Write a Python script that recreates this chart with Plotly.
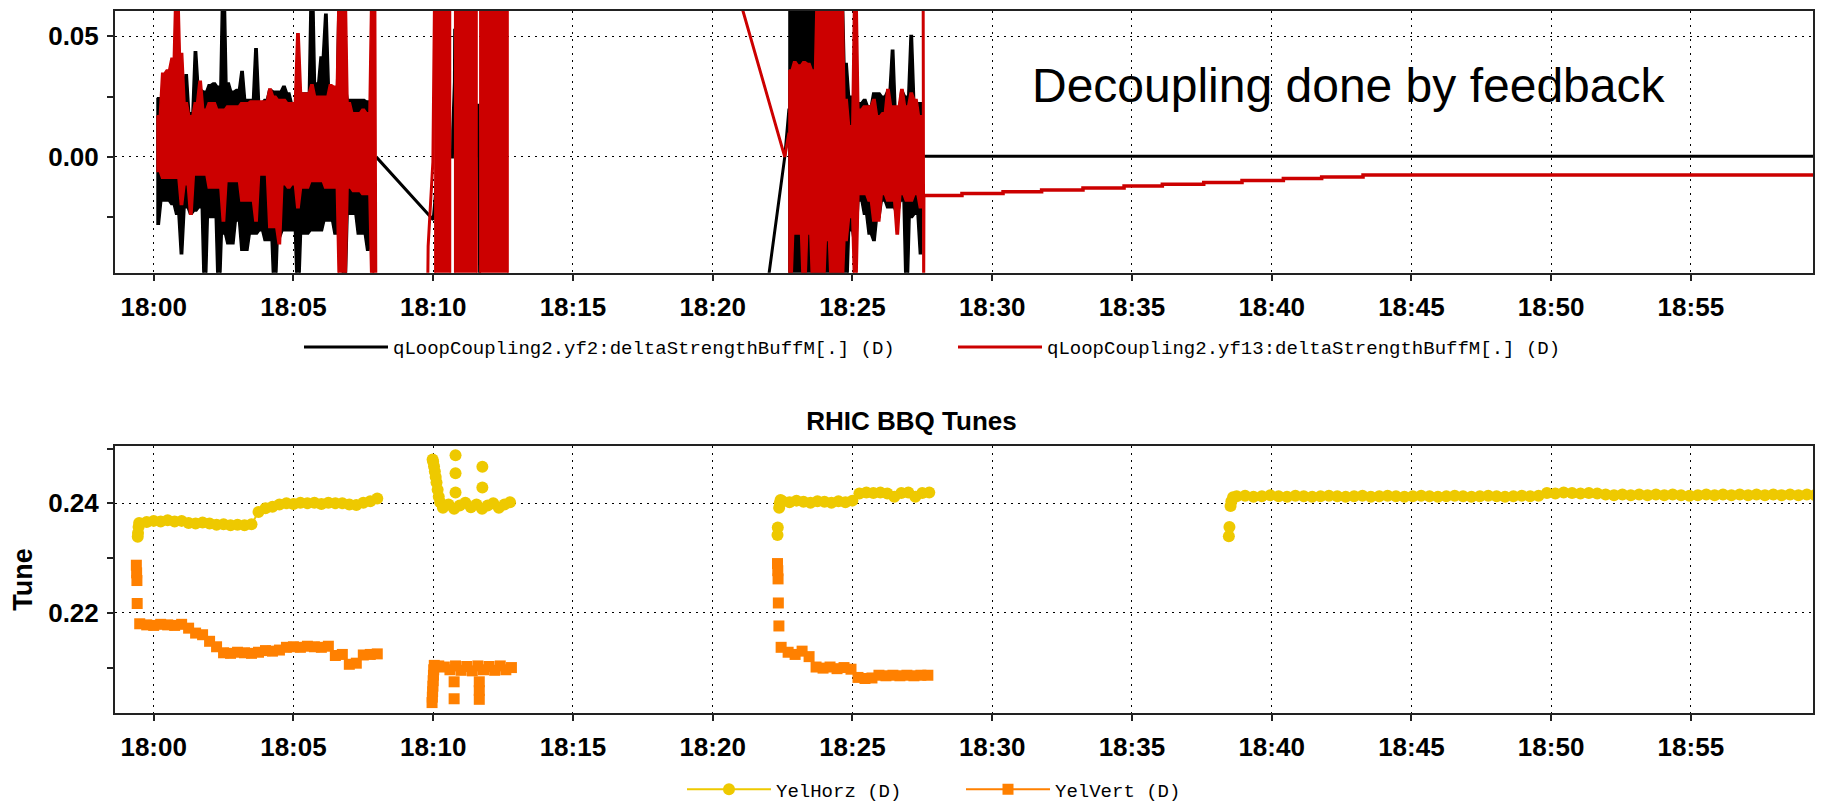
import numpy as np
import pandas as pd
import plotly.graph_objects as go

BASE = pd.Timestamp("2008-01-01 18:00:00")

# ---------------- top panel data (minutes after 18:00) ----------------
DT = 1.0 / 6.0  # 10 s sampling of the noisy envelopes
segA_t0 = 0.12
segB_t0 = 22.73

yf2_segA_up = [0.0245, 0.0183, 0.0183, 0.0183, 0.0197, 0.0224, 0.0340, 0.0183, 0.0435, 0.0279,
               0.0272, 0.0299, 0.0306, 0.0292, 0.0800, 0.0306, 0.0272, 0.0279, 0.0353, 0.0238,
               0.0238, 0.0448, 0.0224, 0.0238, 0.0279, 0.0272, 0.0272, 0.0292, 0.0265, 0.0224,
               0.0224, 0.0265, 0.0265, 0.0800, 0.0306, 0.0414, 0.0591, 0.0279, 0.0238, 0.0800,
               0.0306, 0.0238, 0.0238, 0.0238, 0.0238, 0.0231, 0.0231]
yf2_segA_lo = [-0.0279, -0.0183, -0.0183, -0.0197, -0.0238, -0.0401, -0.0211, -0.0238, -0.0224, -0.0211,
               -0.0600, -0.0251, -0.0251, -0.0600, -0.0319, -0.0360, -0.0360, -0.0265, -0.0387, -0.0387,
               -0.0319, -0.0319, -0.0306, -0.0346, -0.0346, -0.0600, -0.0333, -0.0306, -0.0306, -0.0306,
               -0.0600, -0.0319, -0.0319, -0.0306, -0.0306, -0.0306, -0.0265, -0.0265, -0.0319, -0.0319,
               -0.0600, -0.0238, -0.0238, -0.0319, -0.0319, -0.0387, -0.0319]
yf13_segA_up = [0.0170, 0.0346, 0.0360, 0.0408, 0.0800, 0.0428, 0.0224, 0.0170, 0.0224, 0.0313,
                0.0197, 0.0224, 0.0224, 0.0197, 0.0197, 0.0211, 0.0211, 0.0211, 0.0224, 0.0224,
                0.0231, 0.0231, 0.0231, 0.0231, 0.0281, 0.0251, 0.0238, 0.0238, 0.0224, 0.0224,
                0.0510, 0.0265, 0.0265, 0.0299, 0.0251, 0.0251, 0.0251, 0.0299, 0.0292, 0.0800,
                0.0800, 0.0224, 0.0183, 0.0183, 0.0197, 0.0183, 0.0800]
yf13_segA_lo = [-0.0061, -0.0088, -0.0088, -0.0088, -0.0088, -0.0197, -0.0115, -0.0238, -0.0075, -0.0075,
                -0.0075, -0.0129, -0.0129, -0.0129, -0.0265, -0.0102, -0.0102, -0.0102, -0.0183, -0.0183,
                -0.0183, -0.0265, -0.0075, -0.0075, -0.0292, -0.0292, -0.0360, -0.0115, -0.0129, -0.0115,
                -0.0211, -0.0129, -0.0129, -0.0102, -0.0102, -0.0102, -0.0129, -0.0129, -0.0129, -0.0600,
                -0.0600, -0.0129, -0.0143, -0.0143, -0.0156, -0.0156, -0.0600]

yf2_segB_up = [0.0800] * 12 + [0.0387, 0.0251, 0.0224, 0.0224, 0.0238, 0.0211, 0.0265, 0.0265, 0.0251,
                               0.0272, 0.0442, 0.0183, 0.0272, 0.0251, 0.0503, 0.0224, 0.0224]
yf2_segB_lo = [-0.0600] * 13 + [-0.0306, -0.0374, -0.0183, -0.0238, -0.0319, -0.0346, -0.0251, -0.0183,
                                -0.0211, -0.0211, -0.0238, -0.0183, -0.0600, -0.0251, -0.0238, -0.0401]
yf13_segB_up = [0.0360, 0.0394, 0.0380, 0.0394, 0.0387, 0.0360, 0.0800, 0.0800, 0.0800, 0.0800,
                0.0800, 0.0800, 0.0238, 0.0129, 0.0800, 0.0197, 0.0211, 0.0211, 0.0238, 0.0170,
                0.0183, 0.0279, 0.0211, 0.0211, 0.0279, 0.0211, 0.0265, 0.0238, 0.0170]
yf13_segB_lo = [-0.0600, -0.0319, -0.0319, -0.0600, -0.0319, -0.0600, -0.0600, -0.0600, -0.0346, -0.0600,
                -0.0600, -0.0600, -0.0346, -0.0251, -0.0600, -0.0156, -0.0156, -0.0183, -0.0265, -0.0265,
                -0.0156, -0.0183, -0.0183, -0.0319, -0.0156, -0.0183, -0.0183, -0.0156, -0.0211]

yf2_link_t = [7.96, 9.89, 10.00, 10.20, 10.60, 10.69, 10.70, 10.76, 10.77, 11.60, 11.61, 11.66, 11.67, 12.68, 22.58, 22.73]
yf2_link_v = [0.0, -0.025, -0.026, 0.0, 0.0, 0.0, 0.011, 0.031, 0.053, 0.0, 0.022, -0.033, -0.060, -0.85, 0.0, 0.02]
yf2_tail_t = [27.52, 60.0]
yf2_tail_v = [0.0003, 0.0003]

yf13_link_t = [7.87, 7.91, 7.95, 9.80, 9.82, 9.87, 9.92, 9.99, 10.06, 12.68, 22.58, 22.73]
yf13_link_v = [-0.06, 0.08, -0.06, -0.06, -0.037, -0.025, -0.014, -0.002, 0.08, 0.40, 0.0, 0.01]
yf13_spike_t = [27.53, 27.55, 27.56]
yf13_spike_v = [0.08, -0.06, -0.016]
yf13_burst_start = [10.06, 10.77, 11.67]
yf13_burst_end = [10.62, 11.57, 12.68]
yf13_burst_hi = 0.08
yf13_burst_lo = -0.06
yf13_step_t = [27.56, 28.92, 30.39, 31.77, 33.25, 34.72, 36.09, 37.57, 38.94, 40.42, 41.79, 43.27, 60.0]
yf13_step_v = [-0.0160, -0.0152, -0.0144, -0.0137, -0.0129, -0.0121, -0.0113, -0.0106, -0.0098,
               -0.0090, -0.0083, -0.0075, -0.0075]

# ---------------- bottom panel data ----------------
yh_h1_t = [-0.57, -0.56, -0.54, -0.52]
yh_h1_v = [0.2339, 0.2346, 0.2357, 0.2364]
yh_b1_t0, yh_b1_dt = -0.25, 0.25
yh_b1_v = [0.2366, 0.2368, 0.2367, 0.2369, 0.2367, 0.2368, 0.2364, 0.2363, 0.2365, 0.2363,
           0.2361, 0.2362, 0.2360, 0.2361, 0.2360, 0.2362, 0.2384, 0.2391, 0.2394, 0.2398,
           0.2400, 0.2399, 0.2401, 0.2400, 0.2401, 0.2399, 0.2401, 0.2400, 0.2400, 0.2398,
           0.2397, 0.2401, 0.2404, 0.2409]
yh_h2_t = [9.98, 10.00, 10.03, 10.06, 10.09, 10.12, 10.16, 10.20, 10.25]
yh_h2_v = [0.2480, 0.2476, 0.2468, 0.2458, 0.2448, 0.2438, 0.2425, 0.2412, 0.2402]
yh_b2_t0, yh_b2_dt = 10.35, 0.2
yh_b2_v = [0.2392, 0.2398, 0.2390, 0.2396, 0.2401, 0.2393, 0.2398, 0.2390, 0.2396, 0.2400,
           0.2392, 0.2398, 0.2402]
yh_iso_t = [10.80, 10.80, 10.80, 11.76, 11.76]
yh_iso_v = [0.2488, 0.2455, 0.2420, 0.2467, 0.2429]
yh_h3a_t = [22.32, 22.33]
yh_h3a_v = [0.2342, 0.2356]
yh_h3b_t = [22.38, 22.40, 22.43]
yh_h3b_v = [0.2392, 0.2400, 0.2406]
yh_b3_t0, yh_b3_dt = 22.5, 0.25
yh_b3_v = [0.2404, 0.2402, 0.2405, 0.2403, 0.2401, 0.2404, 0.2403, 0.2401, 0.2404, 0.2402,
           0.2405, 0.2418, 0.2420, 0.2419, 0.2420, 0.2418, 0.2412, 0.2419, 0.2420, 0.2412,
           0.2419, 0.2420]
yh_h4a_t = [38.47, 38.49]
yh_h4a_v = [0.2340, 0.2357]
yh_h4b_t = [38.53, 38.56, 38.62]
yh_h4b_v = [0.2395, 0.2404, 0.2411]
yh_b4_t0, yh_b4_dt = 38.75, 0.3
yh_b4_v = [0.2413, 0.2414, 0.2412, 0.2413, 0.2415, 0.2413, 0.2412, 0.2414, 0.2413, 0.2412,
           0.2413, 0.2414, 0.2413, 0.2412, 0.2413, 0.2414, 0.2412, 0.2413, 0.2414, 0.2413,
           0.2412, 0.2413, 0.2414, 0.2413, 0.2412, 0.2413, 0.2414, 0.2413, 0.2412, 0.2413,
           0.2414, 0.2413, 0.2412, 0.2413, 0.2414, 0.2413, 0.2414, 0.2419, 0.2418, 0.2420,
           0.2419, 0.2418, 0.2419, 0.2418, 0.2416, 0.2415, 0.2416, 0.2415, 0.2416, 0.2415,
           0.2416, 0.2415, 0.2416, 0.2415, 0.2414, 0.2415, 0.2416, 0.2415, 0.2416, 0.2415,
           0.2416, 0.2415, 0.2416, 0.2415, 0.2416, 0.2415, 0.2416, 0.2415, 0.2416, 0.2415]

yv_h1a_t = [-0.62, -0.61, -0.60]
yv_h1a_v = [0.2287, 0.2273, 0.2259]
yv_h1b_t = [-0.59]
yv_h1b_v = [0.2217]
yv_b1_t0, yv_b1_dt = -0.50, 0.25
yv_b1_v = [0.2180, 0.2178, 0.2177, 0.2179, 0.2178, 0.2177, 0.2179, 0.2172, 0.2163, 0.2160,
           0.2148, 0.2138, 0.2127, 0.2126, 0.2128, 0.2127, 0.2126, 0.2128, 0.2131, 0.2130,
           0.2132, 0.2137, 0.2138, 0.2137, 0.2139, 0.2138, 0.2137, 0.2139, 0.2122, 0.2124,
           0.2106, 0.2108, 0.2123, 0.2124, 0.2125]
yv_h2_t = [9.96, 9.97, 9.98, 9.99, 10.00, 10.01, 10.02, 10.04]
yv_h2_v = [0.2036, 0.2046, 0.2056, 0.2066, 0.2076, 0.2086, 0.2096, 0.2104]
yv_b2_t0, yv_b2_dt = 10.2, 0.2
yv_b2_v = [0.2103, 0.2101, 0.2096, 0.2103, 0.2095, 0.2102, 0.2094, 0.2103, 0.2096, 0.2102,
           0.2095, 0.2103, 0.2096, 0.2100]
yv_iso1_t = [10.75]
yv_iso1_v = [0.2074]
yv_iso2_t = [10.75]
yv_iso2_v = [0.2043]
yv_iso3_t = [11.65, 11.65, 11.65]
yv_iso3_v = [0.2074, 0.2058, 0.2042]
yv_h3a_t = [22.32, 22.33, 22.34]
yv_h3a_v = [0.2290, 0.2277, 0.2262]
yv_h3b_t = [22.35]
yv_h3b_v = [0.2218]
yv_h3c_t = [22.37]
yv_h3c_v = [0.2176]
yv_b3_t0, yv_b3_dt = 22.45, 0.25
yv_b3_v = [0.2137, 0.2128, 0.2124, 0.2130, 0.2120, 0.2101, 0.2099, 0.2101, 0.2098, 0.2100,
           0.2097, 0.2082, 0.2080, 0.2081, 0.2086, 0.2085, 0.2086, 0.2085, 0.2086, 0.2085,
           0.2086, 0.2086]

X_RANGE = [-1.384, 59.37]
Y1_RANGE = [-0.048, 0.0604]
Y2_RANGE = [0.2017, 0.2505]

BLACK = "#000000"
RED = "#CC0000"
YELLOW = "#EEC900"
ORANGE = "#FF8000"


def to_time(minutes):
    return [None if m is None else BASE + pd.Timedelta(minutes=float(m)) for m in minutes]


def envelope(t0, dt, up, lo):
    """Closed outline of a noisy band: upper envelope forward, lower envelope back."""
    xs, ys = [], []
    for i, u in enumerate(up):
        xs += [t0 + i * dt, t0 + i * dt + dt / 2]
        ys += [u, u]
    for i in reversed(range(len(lo))):
        xs += [t0 + i * dt + dt / 2, t0 + i * dt]
        ys += [lo[i], lo[i]]
    xs.append(t0)
    ys.append(up[0])
    return xs, ys


def band(t0, dt, vals):
    return list(np.round(t0 + dt * np.arange(len(vals)), 4)), list(vals)


def join(*parts):
    xs, ys = [], []
    for k, (t, v) in enumerate(parts):
        if k:
            xs.append(t[0])
            ys.append(None)
        xs += list(t)
        ys += list(v)
    return xs, ys


fig = go.Figure()

# ---- black series (yf2)
eA = envelope(segA_t0, DT, yf2_segA_up, yf2_segA_lo)
eB = envelope(segB_t0, DT, yf2_segB_up, yf2_segB_lo)
ex, ey = join(eA, eB)
fig.add_trace(go.Scatter(x=to_time(ex), y=ey, mode="lines", fill="toself", fillcolor=BLACK,
                         line=dict(color=BLACK, width=1.5), showlegend=False, legendgroup="blk",
                         xaxis="x", yaxis="y", hoverinfo="skip"))
lx, ly = join((yf2_link_t, yf2_link_v), (yf2_tail_t, yf2_tail_v))
fig.add_trace(go.Scatter(x=to_time(lx), y=ly, mode="lines", line=dict(color=BLACK, width=3),
                         name="qLoopCoupling2.yf2:deltaStrengthBuffM[.] (D)", legend="legend",
                         legendgroup="blk", xaxis="x", yaxis="y"))

# ---- red series (yf13)
rA = envelope(segA_t0, DT, yf13_segA_up, yf13_segA_lo)
rB = envelope(segB_t0, DT, yf13_segB_up, yf13_segB_lo)
bursts = [([s, s, e, e, s], [yf13_burst_lo, yf13_burst_hi, yf13_burst_hi, yf13_burst_lo, yf13_burst_lo])
          for s, e in zip(yf13_burst_start, yf13_burst_end)]
px, py = join(rA, rB, *bursts)
fig.add_trace(go.Scatter(x=to_time(px), y=py, mode="lines", fill="toself", fillcolor=RED,
                         line=dict(color=RED, width=1.5), showlegend=False, legendgroup="red",
                         xaxis="x", yaxis="y", hoverinfo="skip"))
rlx, rly = join((yf13_link_t, yf13_link_v), (yf13_spike_t, yf13_spike_v))
fig.add_trace(go.Scatter(x=to_time(rlx), y=rly, mode="lines", line=dict(color=RED, width=3),
                         name="qLoopCoupling2.yf13:deltaStrengthBuffM[.] (D)", legend="legend",
                         legendgroup="red", xaxis="x", yaxis="y"))
fig.add_trace(go.Scatter(x=to_time(yf13_step_t), y=yf13_step_v, mode="lines", line_shape="hv",
                         line=dict(color=RED, width=3.5), showlegend=False, legendgroup="red",
                         xaxis="x", yaxis="y"))

# ---- bottom series
hx, hy = join((yh_h1_t, yh_h1_v), band(yh_b1_t0, yh_b1_dt, yh_b1_v),
              (yh_h2_t, yh_h2_v), band(yh_b2_t0, yh_b2_dt, yh_b2_v),
              *[([t], [v]) for t, v in zip(yh_iso_t, yh_iso_v)],
              (yh_h3a_t, yh_h3a_v), (yh_h3b_t, yh_h3b_v), band(yh_b3_t0, yh_b3_dt, yh_b3_v),
              (yh_h4a_t, yh_h4a_v), (yh_h4b_t, yh_h4b_v), band(yh_b4_t0, yh_b4_dt, yh_b4_v))
fig.add_trace(go.Scatter(x=to_time(hx), y=hy, mode="lines+markers",
                         line=dict(color=YELLOW, width=2),
                         marker=dict(symbol="circle", size=12, color=YELLOW),
                         name="YelHorz (D)", legend="legend2", xaxis="x2", yaxis="y2"))
vx, vy = join((yv_h1a_t, yv_h1a_v), (yv_h1b_t, yv_h1b_v), band(yv_b1_t0, yv_b1_dt, yv_b1_v),
              (yv_h2_t, yv_h2_v), band(yv_b2_t0, yv_b2_dt, yv_b2_v),
              (yv_iso1_t, yv_iso1_v), (yv_iso2_t, yv_iso2_v), (yv_iso3_t, yv_iso3_v),
              (yv_h3a_t, yv_h3a_v), (yv_h3b_t, yv_h3b_v), (yv_h3c_t, yv_h3c_v),
              band(yv_b3_t0, yv_b3_dt, yv_b3_v))
fig.add_trace(go.Scatter(x=to_time(vx), y=vy, mode="lines+markers",
                         line=dict(color=ORANGE, width=2),
                         marker=dict(symbol="square", size=11, color=ORANGE),
                         name="YelVert (D)", legend="legend2", xaxis="x2", yaxis="y2"))

# ---------------- layout (page body adds an 8px offset; geometry compensates) ----------------
OFF = 8
W, H = 1825, 802
PLOT_L = 115 - OFF
PLOT_R = 1813 - OFF
PLOT_T = 3
PLOT_B = 712.7 - OFF
PLOT_W = PLOT_R - PLOT_L
PLOT_H = PLOT_B - PLOT_T
LEG_ITEM = 84  # legend symbol width


def fy(px_screen):
    return (PLOT_B - (px_screen - OFF)) / PLOT_H


def fx(px_screen):
    return ((px_screen - OFF) - PLOT_L) / PLOT_W


TICKFONT = dict(family="Liberation Sans", size=26, color="black", weight="bold")
common = dict(showline=True, linecolor="#222222", linewidth=2, mirror=True,
              ticks="outside", ticklen=6, tickwidth=2, tickcolor="#222222",
              showgrid=True, gridcolor="#000000", gridwidth=1, griddash="2px,5px",
              zeroline=False, tickfont=TICKFONT, automargin=False)
xcommon = dict(common, type="date", range=to_time(X_RANGE), dtick=300000, tick0=to_time([0])[0],
               tickformat="%H:%M", ticklabelstandoff=4)

fig.update_layout(
    template="none",
    width=W, height=H,
    margin=dict(l=PLOT_L, r=W - PLOT_R, t=PLOT_T, b=H - PLOT_B, pad=0, autoexpand=False),
    font=dict(family="Liberation Sans", color="black"),
    paper_bgcolor="white", plot_bgcolor="white",
    xaxis=dict(xcommon, domain=[0, 1], anchor="y"),
    yaxis=dict(common, domain=[fy(272.7), 1.0], anchor="x", range=Y1_RANGE, dtick=0.05, tick0=0,
               tickformat=".2f", ticklabelstandoff=3,
               minor=dict(dtick=0.025, ticks="outside", ticklen=6, tickwidth=2, tickcolor="#222222",
                          showgrid=False)),
    xaxis2=dict(xcommon, domain=[0, 1], anchor="y2"),
    yaxis2=dict(common, domain=[0, fy(445.7)], anchor="x2", range=Y2_RANGE, dtick=0.02, tick0=0,
                tickformat=".2f", ticklabelstandoff=3,
                minor=dict(dtick=0.01, ticks="outside", ticklen=6, tickwidth=2, tickcolor="#222222",
                           showgrid=False),
                title=dict(text="Tune", font=dict(family="Liberation Sans", size=27, color="black",
                                                  weight="bold"), standoff=8)),
    title=dict(text="RHIC BBQ Tunes", x=(911.5 - OFF) / W, xref="container", xanchor="center",
               y=1 - (421 - OFF) / H, yref="container", yanchor="middle",
               font=dict(family="Liberation Sans", size=26, color="black", weight="bold")),
    legend=dict(orientation="h", x=fx(393 - LEG_ITEM - 10), y=fy(347), xanchor="left", yanchor="middle",
                font=dict(family="Liberation Mono", size=19, color="black"), itemwidth=LEG_ITEM,
                bgcolor="rgba(0,0,0,0)", entrywidth=654 - LEG_ITEM - 15, entrywidthmode="pixels"),
    legend2=dict(orientation="h", x=fx(776 - LEG_ITEM - 10), y=fy(789), xanchor="left", yanchor="middle",
                 font=dict(family="Liberation Mono", size=19, color="black"), itemwidth=LEG_ITEM,
                 bgcolor="rgba(0,0,0,0)", entrywidth=279 - LEG_ITEM - 15, entrywidthmode="pixels"),
    annotations=[dict(text="Decoupling done by feedback", xref="paper", yref="paper",
                      x=fx(1348), y=fy(85.5), xanchor="center", yanchor="middle", showarrow=False,
                      font=dict(family="Liberation Sans", size=48, color="black"))],
)

fig.write_html("out.html")
